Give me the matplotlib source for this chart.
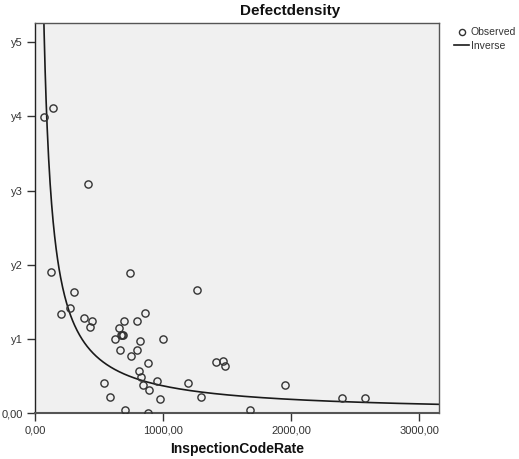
import numpy as np
import matplotlib
matplotlib.use("Agg")
import matplotlib.pyplot as plt
from matplotlib.ticker import FixedLocator, FixedFormatter

plt.rcParams['font.family'] = ['Liberation Sans', 'DejaVu Sans']

# observed points (InspectionCodeRate, Defectdensity)
rate = [125, 740, 307, 1263, 203, 271, 385, 445, 432, 859,
        698, 794, 654, 669, 685, 625, 823, 1000, 664, 799,
        753, 880, 1409, 1469, 1487, 810, 831, 539, 846, 951,
        1193, 891, 586, 979, 1299, 701, 883, 1677, 1948, 2398,
        2573, 70, 138, 417, 680]
density = [1.90, 1.89, 1.64, 1.66, 1.34, 1.42, 1.29, 1.25, 1.16, 1.35,
           1.25, 1.25, 1.15, 1.05, 1.05, 1.00, 0.97, 1.00, 0.85, 0.85,
           0.77, 0.68, 0.69, 0.71, 0.64, 0.57, 0.49, 0.41, 0.38, 0.43,
           0.41, 0.31, 0.22, 0.19, 0.22, 0.04, 0.00, 0.04, 0.38, 0.20,
           0.21, 3.99, 4.12, 3.09, 1.06]

# inverse model  y = b0 + b1 / x
b0 = 0.005
b1 = 365.0

xticks = [0, 1000, 2000, 3000]
xlabels = ["0,00", "1000,00", "2000,00", "3000,00"]
yticks = [0, 1, 2, 3, 4, 5]
ylabels = ["0,00", "y1", "y2", "y3", "y4", "y5"]

fig = plt.figure(figsize=(5.19, 4.59), dpi=100)
ax = fig.add_axes([35/519, 1 - 413.3/459, 404.3/519, 390.3/459])
ax.set_facecolor("#f0f0f0")

xs = np.linspace(40, 3160, 800)
line, = ax.plot(xs, b0 + b1 / xs, color="#1a1a1a", lw=1.2, zorder=2)
pts, = ax.plot(rate, density, ls="none", marker="o", ms=5.2, mfc="none",
               mec="#333333", mew=1.0, zorder=3)

ax.set_xlim(0, 3156)
ax.set_ylim(0, 5.26)
ax.xaxis.set_major_locator(FixedLocator(xticks))
ax.xaxis.set_major_formatter(FixedFormatter(xlabels))
ax.yaxis.set_major_locator(FixedLocator(yticks))
ax.yaxis.set_major_formatter(FixedFormatter(ylabels))
ax.tick_params(length=5.5, width=1.0, color="#333333", labelsize=8,
               labelcolor="#333333")
ax.tick_params(axis="x", pad=3)
ax.tick_params(axis="y", pad=3)
for s in ax.spines.values():
    s.set_color("#555555")
    s.set_linewidth(1.0)
ax.spines["left"].set_color("#222222")
ax.spines["bottom"].set_linewidth(1.5)

ax.set_xlabel("InspectionCodeRate", fontsize=10, fontweight="bold", color="#111111")
ax.xaxis.set_label_coords(0.5, -0.073)

fig.text(290/519, 1 - 11/459, "Defectdensity", fontsize=11, fontweight="bold",
         ha="center", va="center", color="#111111")

fig.legend([pts, line], ["Observed", "Inverse"], loc="upper left",
           bbox_to_anchor=(449/519, 1 - 22/459), frameon=False, borderpad=0,
           handlelength=1.4, handletextpad=0.2, labelspacing=0.35,
           fontsize=7.5, labelcolor="#333333", markerscale=0.85)

fig.savefig("out.png", dpi=100)
